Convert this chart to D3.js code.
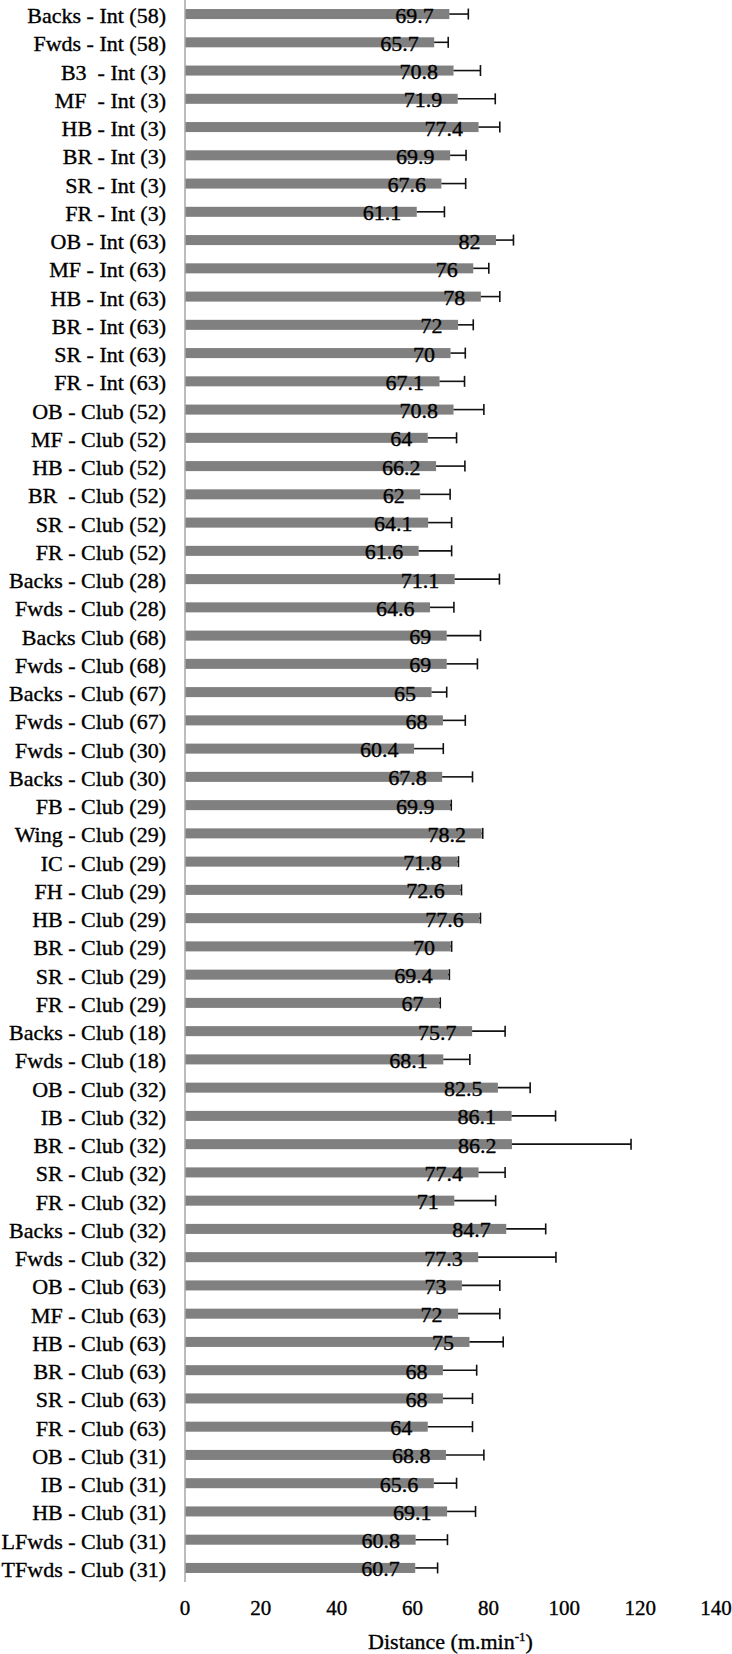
<!DOCTYPE html>
<html>
<head>
<meta charset="utf-8">
<script src="https://cdn.jsdelivr.net/npm/d3@7/dist/d3.min.js"></script>
<style>
  html, body { margin: 0; padding: 0; background: #fff; }
  svg { display: block; }
</style>
</head>
<body>
<svg id="chart" width="732" height="1654" font-family="'Liberation Serif', 'Times New Roman', Times, serif"></svg>
<script>
const categories = [
  "Backs - Int (58)", "Fwds - Int (58)", "B3  - Int (3)", "MF  - Int (3)", "HB - Int (3)",
  "BR - Int (3)", "SR - Int (3)", "FR - Int (3)", "OB - Int (63)", "MF - Int (63)",
  "HB - Int (63)", "BR - Int (63)", "SR - Int (63)", "FR - Int (63)", "OB - Club (52)",
  "MF - Club (52)", "HB - Club (52)", "BR  - Club (52)", "SR - Club (52)", "FR - Club (52)",
  "Backs - Club (28)", "Fwds - Club (28)", "Backs Club (68)", "Fwds - Club (68)", "Backs - Club (67)",
  "Fwds - Club (67)", "Fwds - Club (30)", "Backs - Club (30)", "FB - Club (29)", "Wing - Club (29)",
  "IC - Club (29)", "FH - Club (29)", "HB - Club (29)", "BR - Club (29)", "SR - Club (29)",
  "FR - Club (29)", "Backs - Club (18)", "Fwds - Club (18)", "OB - Club (32)", "IB - Club (32)",
  "BR - Club (32)", "SR - Club (32)", "FR - Club (32)", "Backs - Club (32)", "Fwds - Club (32)",
  "OB - Club (63)", "MF - Club (63)", "HB - Club (63)", "BR - Club (63)", "SR - Club (63)",
  "FR - Club (63)", "OB - Club (31)", "IB - Club (31)", "HB - Club (31)", "LFwds - Club (31)",
  "TFwds - Club (31)"
];
const values = [
  69.7, 65.7, 70.8, 71.9, 77.4, 69.9, 67.6, 61.1, 82, 76,
  78, 72, 70, 67.1, 70.8, 64, 66.2, 62, 64.1, 61.6,
  71.1, 64.6, 69, 69, 65, 68, 60.4, 67.8, 69.9, 78.2,
  71.8, 72.6, 77.6, 70, 69.4, 67, 75.7, 68.1, 82.5, 86.1,
  86.2, 77.4, 71, 84.7, 77.3, 73, 72, 75, 68, 68,
  64, 68.8, 65.6, 69.1, 60.8, 60.7
];
const valueLabels = [
  "69.7", "65.7", "70.8", "71.9", "77.4", "69.9", "67.6", "61.1", "82", "76",
  "78", "72", "70", "67.1", "70.8", "64", "66.2", "62", "64.1", "61.6",
  "71.1", "64.6", "69", "69", "65", "68", "60.4", "67.8", "69.9", "78.2",
  "71.8", "72.6", "77.6", "70", "69.4", "67", "75.7", "68.1", "82.5", "86.1",
  "86.2", "77.4", "71", "84.7", "77.3", "73", "72", "75", "68", "68",
  "64", "68.8", "65.6", "69.1", "60.8", "60.7"
];
const errors = [
  5.0, 3.7, 7.1, 9.9, 5.6, 4.2, 6.4, 7.3, 4.6, 4.1,
  5.0, 4.0, 3.9, 6.6, 8.0, 7.6, 7.6, 7.9, 6.2, 8.7,
  11.8, 6.3, 8.9, 8.1, 4.0, 5.9, 7.7, 8.0, 0.3, 0.3,
  0.3, 0.3, 0.3, 0.3, 0.3, 0.3, 8.7, 7.0, 8.5, 11.6,
  31.4, 7.0, 10.9, 10.4, 20.5, 10.0, 11.0, 8.9, 8.9, 7.8,
  11.8, 10.0, 6.0, 7.5, 8.4, 5.9
];
const xTicks = [0, 20, 40, 60, 80, 100, 120, 140];
const xTitle = "Distance (m.min";
const xTitleSup = "-1";

const FONT = "'Liberation Serif', 'Times New Roman', Times, serif";
const data = categories.map((c, i) => ({ cat: c, v: values[i], e: errors[i], lab: valueLabels[i] }));

const svg = d3.select("#chart");
const left = 185, right = 716, plotBottom = 1582;

const x = d3.scaleLinear().domain([0, 140]).range([left, right]);
const y = d3.scaleBand().domain(categories).range([0, plotBottom])
  .paddingInner(0.645).paddingOuter(0.32);

function styleText(sel, size) {
  return sel.attr("font-family", FONT)
    .attr("font-size", size)
    .attr("fill", "#000")
    .attr("stroke", "#000")
    .attr("stroke-width", 0.35);
}

// bars
svg.append("g").selectAll("rect").data(data).join("rect")
  .attr("x", x(0))
  .attr("y", d => y(d.cat))
  .attr("width", d => x(d.v) - x(0))
  .attr("height", y.bandwidth())
  .attr("fill", "#808080");

// error bars
const eg = svg.append("g").attr("stroke", "#111").attr("stroke-width", 1.6);
eg.selectAll("line.eb").data(data).join("line").attr("class", "eb")
  .attr("x1", d => x(d.v)).attr("x2", d => x(d.v + d.e))
  .attr("y1", d => y(d.cat) + y.bandwidth() / 2)
  .attr("y2", d => y(d.cat) + y.bandwidth() / 2);
eg.selectAll("line.cap").data(data).join("line").attr("class", "cap")
  .attr("x1", d => x(d.v + d.e)).attr("x2", d => x(d.v + d.e))
  .attr("y1", d => y(d.cat) + y.bandwidth() / 2 - 5.5)
  .attr("y2", d => y(d.cat) + y.bandwidth() / 2 + 5.5);

// category axis line
svg.append("line")
  .attr("x1", x(0)).attr("x2", x(0))
  .attr("y1", 0).attr("y2", plotBottom)
  .attr("stroke", "#a6a6a6").attr("stroke-width", 1.5);

// category labels
styleText(svg.append("g").selectAll("text").data(data).join("text"), 22)
  .attr("x", x(0) - 19)
  .attr("y", d => y(d.cat) + y.bandwidth() / 2 + 9)
  .attr("text-anchor", "end")
  .attr("xml:space", "preserve")
  .style("white-space", "pre")
  .text(d => d.cat);

// value labels
styleText(svg.append("g").selectAll("text").data(data).join("text"), 22)
  .attr("x", d => x(d.v) - 15.5)
  .attr("y", d => y(d.cat) + y.bandwidth() / 2 + 8.5)
  .attr("text-anchor", "end")
  .text(d => d.lab);

// x tick labels
styleText(svg.append("g").selectAll("text").data(xTicks).join("text"), 21)
  .attr("x", d => x(d))
  .attr("y", 1615)
  .attr("text-anchor", "middle")
  .text(d => d);

// x title
const t = styleText(svg.append("text"), 22)
  .attr("x", (left + right) / 2)
  .attr("y", 1649)
  .attr("text-anchor", "middle");
t.append("tspan").text(xTitle);
t.append("tspan").attr("font-size", 13).attr("dy", -8).text(xTitleSup);
t.append("tspan").attr("dy", 8).text(")");
</script>
</body>
</html>
